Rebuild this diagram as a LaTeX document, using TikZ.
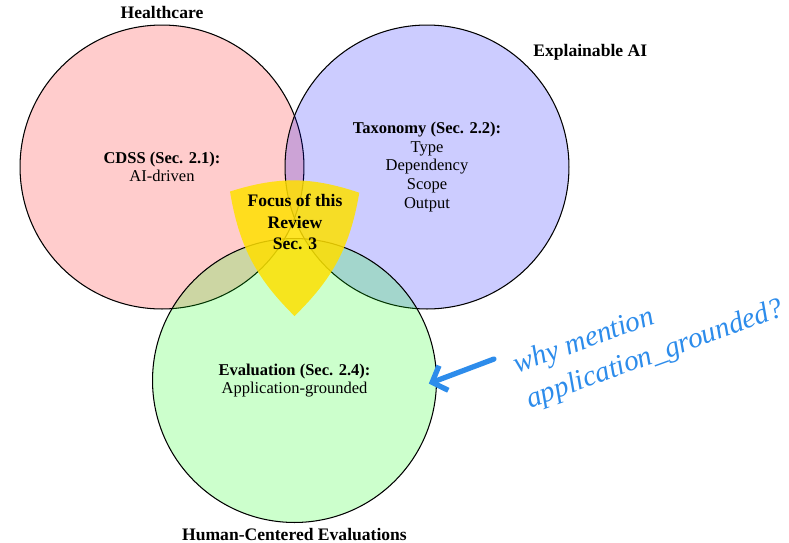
\documentclass[tikz,border=0pt]{standalone}
\usepackage{fontspec}
\setmainfont{Liberation Serif}
\usetikzlibrary{positioning,arrows.meta}

\definecolor{inkblue}{RGB}{45,140,235}
\definecolor{focusyellow}{RGB}{255,224,0}

\tikzset{
    venn/.style={draw,circle,line width=0.6pt,minimum size=5.68cm,inner sep=0pt,
                 fill opacity=0.2,text opacity=1,align=center},
    venntitle/.style={font=\bfseries,inner sep=3pt},
    focusarea/.style={fill=focusyellow,fill opacity=0.85},
    inknote/.style={color=inkblue,font=\fontsize{16.5}{21}\selectfont\itshape,align=left},
    inkarrow/.style={color=inkblue,line width=3pt,line cap=round,
                     -{Straight Barb[length=7pt,width=15pt,line width=3pt]}}
}

\begin{document}
\begin{tikzpicture}[x=0.02cm,y=-0.02cm,font=\fontsize{9.4}{10.6}\selectfont]
    \useasboundingbox (0,0) rectangle (789,542);

    \node (hc)  at (162,167)   [venn,fill=red]   {\textbf{CDSS (Sec. 2.1):}\\AI-driven};
    \node (xai) at (427,167)   [venn,fill=blue]  {\textbf{Taxonomy (Sec. 2.2):}\\Type\\Dependency\\Scope\\Output};
    \node (ev)  at (294.5,380.5) [venn,fill=green] {\textbf{Evaluation (Sec. 2.4):}\\Application-grounded};

    \node (hctitle)  [venntitle,above=0pt of hc]                 {Healthcare};
    \node (xaititle) [venntitle,above right=0pt of xai.north east] {Explainable AI};
    \node (evtitle)  [venntitle,below=0pt of ev]                 {Human-Centered Evaluations};

    \coordinate (fl) at (230,191.5);
    \coordinate (fr) at (359.3,192.7);
    \coordinate (fb) at (294.5,316);
    \fill[focusarea] (fl) to[bend left=18] (fr) to[bend left=18] (fb) to[bend left=18] (fl);
    \node (focus) at (295,222) [align=center,font=\bfseries] {Focus of this\\Review\\Sec. 3};

    \node (note) at (649,338) [inknote,rotate=20] {why mention\\application\_grounded?};
    \coordinate (notetail) at (494,359);
    \draw[inkarrow,shorten >=-5pt] (notetail) to (ev.east);

\end{tikzpicture}
\end{document}
